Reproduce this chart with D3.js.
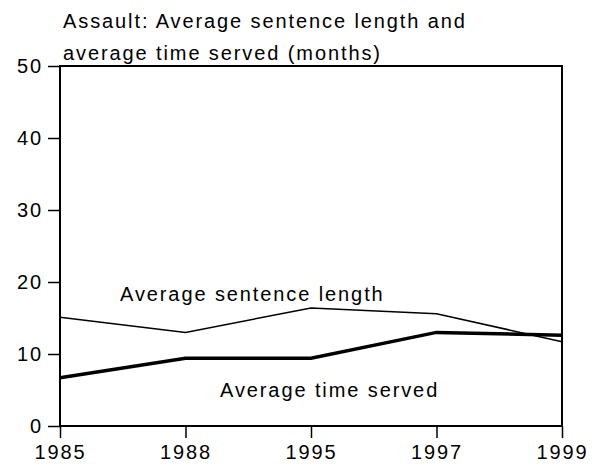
<!DOCTYPE html>
<html><head><meta charset="utf-8">
<script src="https://cdn.jsdelivr.net/npm/d3@7"></script>
<style>
body{margin:0;background:#fff;}
text{font-family:"Liberation Sans",Arial,sans-serif;fill:#000;}
</style></head>
<body>
<svg id="c" width="595" height="470"></svg>
<script>
const years = ["1985","1988","1995","1997","1999"];
const sentenceLength = [15.1, 13.0, 16.4, 15.6, 11.7];
const timeServed = [6.7, 9.4, 9.4, 13.0, 12.6];
const yTicks = [0,10,20,30,40,50];
const titleLines = ["Assault: Average sentence length and","average time served (months)"];

const svg = d3.select("#c");
const L=60, R=562, T=66, B=426;
const x = d3.scalePoint().domain(years).range([L,R]);
const y = d3.scaleLinear().domain([0,50]).range([B,T]);

const fs = 20, ls = "1.9px";

// frame
svg.append("rect").attr("x",L).attr("y",T).attr("width",R-L).attr("height",B-T)
  .attr("fill","none").attr("stroke","#000").attr("stroke-width",2);

// y axis
const ya = svg.append("g").attr("transform",`translate(${L},0)`)
  .call(d3.axisLeft(y).tickValues(yTicks).tickSize(12).tickPadding(5).tickFormat(d3.format("d")));
ya.select(".domain").remove();
ya.selectAll("line").attr("stroke","#000").attr("stroke-width",1.5);
ya.selectAll("text").attr("font-size",fs).style("letter-spacing",ls).attr("font-family","Liberation Sans");

// x axis
const xa = svg.append("g").attr("transform",`translate(0,${B})`)
  .call(d3.axisBottom(x).tickSize(12).tickPadding(7));
xa.select(".domain").remove();
xa.selectAll("line").attr("stroke","#000").attr("stroke-width",1.5);
xa.selectAll("text").attr("font-size",fs).style("letter-spacing",ls).attr("font-family","Liberation Sans");

// lines
const line = d3.line().x((d,i)=>x(years[i])).y(d=>y(d));
svg.append("path").datum(sentenceLength).attr("d",line)
  .attr("fill","none").attr("stroke","#000").attr("stroke-width",1.5);
svg.append("path").datum(timeServed).attr("d",line)
  .attr("fill","none").attr("stroke","#000").attr("stroke-width",3.5);

// labels
svg.append("text").attr("x",120).attr("y",301).attr("font-size",fs).style("letter-spacing",ls)
  .text("Average sentence length");
svg.append("text").attr("x",220).attr("y",397).attr("font-size",fs).style("letter-spacing",ls)
  .text("Average time served");

// title
svg.selectAll("text.title").data(titleLines).enter().append("text").attr("class","title")
  .attr("x",63).attr("y",(d,i)=>28+i*32).attr("font-size",fs).style("letter-spacing",ls)
  .text(d=>d);
</script>
</body></html>
